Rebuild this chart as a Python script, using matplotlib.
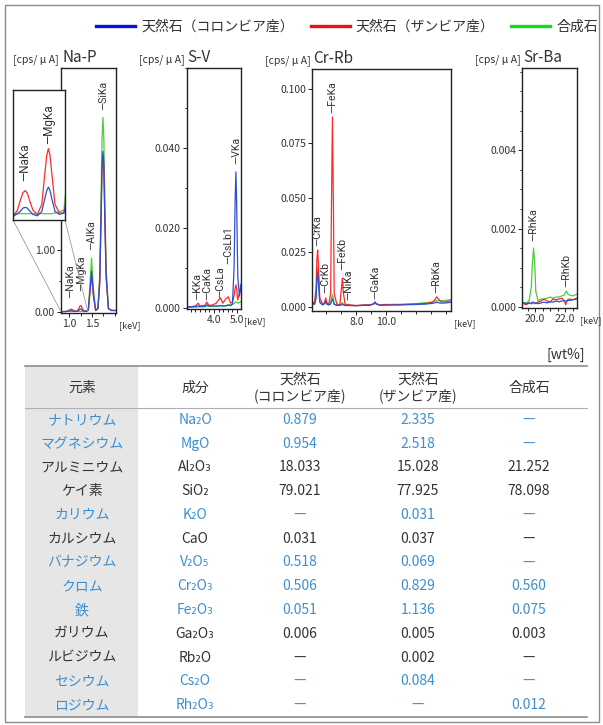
import matplotlib
matplotlib.use("Agg")
import matplotlib.pyplot as plt
from matplotlib.lines import Line2D
from matplotlib.patches import Rectangle, ConnectionPatch
from matplotlib.ticker import FixedLocator, MultipleLocator, FormatStrFormatter

plt.rcParams['font.family'] = ['Noto Sans CJK JP', 'DejaVu Sans']

# 系列
series_names = ['天然石（コロンビア産）', '天然石（ザンビア産）', '合成石']

# スペクトル Na-P  (keV, cps/uA)
nap_kev = [0.82, 0.93, 0.97, 1.00, 1.02, 1.04, 1.06, 1.08, 1.11, 1.15, 1.19, 1.22, 1.235, 1.25, 1.265, 1.28,
           1.31, 1.35, 1.39, 1.42, 1.45, 1.49, 1.53, 1.58, 1.63, 1.67, 1.70, 1.72, 1.74, 1.76, 1.78, 1.81,
           1.86, 1.93, 2.02]
nap_colombia = [0.0, 0.003, 0.007, 0.011, 0.015, 0.016, 0.015, 0.011, 0.006, 0.004, 0.010, 0.030, 0.040, 0.045,
                0.040, 0.029, 0.010, 0.006, 0.008,
                0.030, 0.29, 0.66, 0.29, 0.02, 0.05, 0.5, 1.6, 2.4, 2.6, 2.4, 1.6, 0.6, 0.05, 0.02, 0.02]
nap_zambia = [0.0, 0.003, 0.012, 0.028, 0.037, 0.040, 0.036, 0.026, 0.012, 0.006, 0.020, 0.068, 0.090, 0.100,
              0.090, 0.066, 0.020, 0.008, 0.008,
              0.030, 0.26, 0.60, 0.26, 0.02, 0.05, 0.45, 1.5, 2.3, 2.5, 2.3, 1.5, 0.55, 0.05, 0.02, 0.02]
nap_synth = [0.0, 0.007, 0.007, 0.007, 0.007, 0.007, 0.007, 0.007, 0.007, 0.007, 0.007, 0.007, 0.007, 0.007,
             0.007, 0.007, 0.008, 0.010, 0.012,
             0.060, 0.38, 0.87, 0.38, 0.02, 0.06, 0.6, 1.9, 2.8, 3.15, 2.8, 1.9, 0.7, 0.06, 0.02, 0.02]
nap_peaks = ['NaKa', 'MgKa', 'AlKa', 'SiKa']
nap_peak_kev = [1.04, 1.25, 1.49, 1.74]

# スペクトル S-V
sv_kev = [2.82, 3.0, 3.2, 3.31, 3.4, 3.6, 3.69, 3.78, 3.95, 4.1, 4.2, 4.29, 4.38, 4.5, 4.62, 4.72,
          4.8, 4.87, 4.92, 4.95, 4.98, 5.03, 5.1, 5.17]
sv_colombia = [0.0003, 0.0003, 0.0004, 0.0005, 0.0004, 0.0004, 0.0008, 0.0005, 0.0005, 0.0005, 0.0005, 0.0006,
               0.0005, 0.0005, 0.0007, 0.0006, 0.0010, 0.010, 0.028, 0.034, 0.027, 0.008, 0.003, 0.006]
sv_zambia = [0.0002, 0.0003, 0.0005, 0.0012, 0.0005, 0.0006, 0.0015, 0.0006, 0.0008, 0.0012, 0.0020, 0.0025,
             0.0012, 0.0022, 0.0028, 0.0012, 0.0015, 0.0030, 0.0050, 0.0058, 0.0048, 0.0020, 0.0035, 0.0050]
sv_synth = [0.0002, 0.0002, 0.0002, 0.0003, 0.0003, 0.0003, 0.0005, 0.0004, 0.0004, 0.0004, 0.0005, 0.0006,
            0.0005, 0.0006, 0.0008, 0.0008, 0.0009, 0.0011, 0.0014, 0.0015, 0.0014, 0.0012, 0.0014, 0.0016]
sv_peaks = ['KKa', 'CaKa', 'CsLa', 'CsLb1', 'VKa']
sv_peak_kev = [3.31, 3.69, 4.29, 4.62, 4.95]

# スペクトル Cr-Rb
crrb_kev = [5.05, 5.2, 5.3, 5.36, 5.41, 5.47, 5.55, 5.75, 5.88, 5.95, 6.02, 6.15, 6.28, 6.34, 6.40, 6.46,
            6.52, 6.7, 6.9, 7.0, 7.06, 7.12, 7.25, 7.40, 7.48, 7.56, 8.0, 8.5, 8.9, 9.15, 9.25, 9.35,
            9.6, 10.0, 11.0, 12.0, 12.7, 13.1, 13.3, 13.39, 13.5, 13.7, 14.0, 14.35]
crrb_colombia = [0.002, 0.001, 0.004, 0.012, 0.016, 0.011, 0.002, 0.0008, 0.0015, 0.0025, 0.0012, 0.0008,
                 0.0012, 0.0025, 0.0035, 0.0025, 0.001, 0.0006, 0.0006, 0.0008, 0.0012, 0.0008, 0.0005, 0.0005,
                 0.0006, 0.0005, 0.0004, 0.0006, 0.0006, 0.0012, 0.0022, 0.0012, 0.0006, 0.0007, 0.0008, 0.0010,
                 0.0012, 0.0015, 0.0018, 0.0020, 0.0018, 0.0016, 0.0017, 0.0020]
crrb_zambia = [0.002, 0.002, 0.008, 0.022, 0.026, 0.018, 0.004, 0.001, 0.002, 0.004, 0.002, 0.001,
               0.006, 0.050, 0.087, 0.050, 0.006, 0.001, 0.001, 0.008, 0.013, 0.007, 0.001, 0.001,
               0.001, 0.0008, 0.0005, 0.0008, 0.0008, 0.0012, 0.0018, 0.0012, 0.0008, 0.0010, 0.0009, 0.0012,
               0.0015, 0.0020, 0.0035, 0.0045, 0.0035, 0.0022, 0.0022, 0.0028]
crrb_synth = [0.0015, 0.001, 0.004, 0.013, 0.018, 0.012, 0.002, 0.0008, 0.0015, 0.003, 0.0012, 0.0008,
              0.002, 0.004, 0.0055, 0.004, 0.0012, 0.0006, 0.0006, 0.0012, 0.002, 0.0012, 0.0006, 0.0006,
              0.0007, 0.0006, 0.0005, 0.0007, 0.0008, 0.0012, 0.0018, 0.0012, 0.0008, 0.0009, 0.0011, 0.0014,
              0.0018, 0.0022, 0.0025, 0.0028, 0.0027, 0.0027, 0.0029, 0.0032]
crrb_peaks = ['CrKa', 'CrKb', 'FeKa', 'FeKb', 'NiKa', 'GaKa', 'RbKa']
crrb_peak_kev = [5.41, 5.95, 6.40, 7.06, 7.48, 9.25, 13.39]

# スペクトル Sr-Ba
srba_kev = [19.15, 19.4, 19.6, 19.75, 19.82, 19.9, 19.98, 20.05, 20.2, 20.4, 20.6, 20.8, 21.0, 21.2,
            21.4, 21.6, 21.8, 21.95, 22.05, 22.1, 22.18, 22.3, 22.5, 22.78]
srba_colombia = [0.00012, 0.00008, 0.0001, 0.00008, 0.00012, 0.0001, 0.0001, 0.0001, 0.00008, 0.0001, 0.00012,
                 0.0001, 0.00013, 0.00012, 0.00015, 0.00013, 0.00015, 0.00016, 0.00014, 0.00015, 0.00017,
                 0.00016, 0.00018, 0.0002]
srba_zambia = [0.0001, 0.00005, 0.0001, 0.00008, 0.0001, 0.00012, 0.00008, 0.0001, 0.00012, 0.00015, 0.0002,
               0.00015, 0.00012, 0.0002, 0.00018, 0.0002, 0.00022, 0.00015, 0.00005, 0.00012, 0.00018,
               0.0002, 0.00018, 0.00022]
srba_synth = [0.0001, 0.0001, 0.00015, 0.0005, 0.0011, 0.0015, 0.0011, 0.0004, 0.00015, 0.0002, 0.0002,
              0.00022, 0.00025, 0.00022, 0.00025, 0.00025, 0.00028, 0.0003, 0.00038, 0.0004, 0.00033,
              0.0003, 0.00028, 0.00032]
srba_peaks = ['RhKa', 'RhKb']
srba_peak_kev = [19.9, 22.1]

# 分析結果 [wt%]
elements = ['ナトリウム', 'マグネシウム', 'アルミニウム', 'ケイ素', 'カリウム', 'カルシウム', 'バナジウム',
            'クロム', '鉄', 'ガリウム', 'ルビジウム', 'セシウム', 'ロジウム']
oxides = ['Na₂O', 'MgO', 'Al₂O₃', 'SiO₂', 'K₂O', 'CaO', 'V₂O₅', 'Cr₂O₃', 'Fe₂O₃', 'Ga₂O₃', 'Rb₂O',
          'Cs₂O', 'Rh₂O₃']
wt_colombia = [0.879, 0.954, 18.033, 79.021, None, 0.031, 0.518, 0.506, 0.051, 0.006, None, None, None]
wt_zambia = [2.335, 2.518, 15.028, 77.925, 0.031, 0.037, 0.069, 0.829, 1.136, 0.005, 0.002, 0.084, None]
wt_synth = [None, None, 21.252, 78.098, None, None, None, 0.560, 0.075, 0.003, None, None, 0.012]
highlight = [True, True, False, False, True, False, True, True, True, False, False, True, True]
table_header = ['元素', '成分', '天然石\n(コロンビア産)', '天然石\n(ザンビア産)', '合成石']

W, H = 603, 725
line_colors = ['#2a4fd0', '#ff2a2a', '#4ccc3a']
legend_colors = ['#0a10e8', '#f01010', '#10dd10']
TXT = '#333333'
BLUE_TXT = '#3b8fd2'
LABEL_KW = dict(rotation=90, ha='center', va='bottom', fontsize=7.6, color=TXT,
                family=['Roboto', 'DejaVu Sans'])


def px_box(x0, y0, x1, y1):
    return [x0 / W, 1 - y1 / H, (x1 - x0) / W, (y1 - y0) / H]


fig = plt.figure(figsize=(W / 100, H / 100), dpi=100)

ov = fig.add_axes([0, 0, 1, 1])
ov.set_xlim(0, W)
ov.set_ylim(H, 0)
ov.axis('off')

# 外枠
ov.add_patch(Rectangle((4.5, 4.5), 594, 717, fill=False, ec='#8c8c8c', lw=1.0))

# label_dx: 詰まったラベルを少しだけ左右にずらす量 [keV]
panels = [
    dict(name='Na-P', box=(61, 68, 115.7, 313), kev=nap_kev,
         curves=(nap_colombia, nap_zambia, nap_synth), peaks=nap_peaks, peak_kev=nap_peak_kev,
         label_y=[0.22, 0.33, 1.0, 3.27], label_dx=[-0.015, 0.015, 0, 0],
         xlim=(0.82, 2.02), ylim=(-0.021, 3.95),
         xticks=[1.0, 1.5], xminor=0.25, yticks=[0, 1], yminor=0.5, yfmt='%.2f'),
    dict(name='S-V', box=(186.7, 68, 241, 309), kev=sv_kev,
         curves=(sv_colombia, sv_zambia, sv_synth), peaks=sv_peaks, peak_kev=sv_peak_kev,
         label_y=[0.002, 0.002, 0.0025, 0.011, 0.036], label_dx=[-0.04, 0.03, 0, 0, 0],
         xlim=(2.82, 5.17), ylim=(-0.00025, 0.06),
         xticks=[4.0, 5.0], xminor=0.2, yticks=[0, 0.02, 0.04], yminor=0.01, yfmt='%.3f'),
    dict(name='Cr-Rb', box=(312.3, 69, 451, 311), kev=crrb_kev,
         curves=(crrb_colombia, crrb_zambia, crrb_synth), peaks=crrb_peaks, peak_kev=crrb_peak_kev,
         label_y=[0.028, 0.0063, 0.089, 0.017, 0.003, 0.0035, 0.0063], label_dx=[0] * 7,
         xlim=(5.05, 14.35), ylim=(-0.002, 0.109), xticks=[8.0, 10.0], xminor=1.0,
         yticks=[0, 0.025, 0.05, 0.075, 0.1], yminor=None, yfmt='%.3f'),
    dict(name='Sr-Ba', box=(522.3, 68, 576.7, 308), kev=srba_kev,
         curves=(srba_colombia, srba_zambia, srba_synth), peaks=srba_peaks, peak_kev=srba_peak_kev,
         label_y=[0.00167, 0.00051], label_dx=[0, 0], xlim=(19.15, 22.78), ylim=(-0.00003, 0.0061),
         xticks=[20.0, 22.0], xminor=0.5, yticks=[0, 0.002, 0.004], yminor=0.0005, yfmt='%.3f'),
]

axes = []
for p in panels:
    ax = fig.add_axes(px_box(*p['box']))
    for y, c, name in reversed(list(zip(p['curves'], line_colors, series_names))):
        ax.plot(p['kev'], y, color=c, lw=0.9, label=name)
    ax.set_xlim(*p['xlim'])
    ax.set_ylim(*p['ylim'])
    ax.xaxis.set_major_locator(FixedLocator(p['xticks']))
    ax.xaxis.set_major_formatter(FormatStrFormatter('%.1f'))
    ax.xaxis.set_minor_locator(MultipleLocator(p['xminor']))
    ax.yaxis.set_major_locator(FixedLocator(p['yticks']))
    ax.yaxis.set_major_formatter(FormatStrFormatter(p['yfmt']))
    if p['yminor']:
        ax.yaxis.set_minor_locator(MultipleLocator(p['yminor']))
    ax.tick_params(which='both', direction='out', width=0.7, color='#222222',
                   labelsize=7.5, labelcolor=TXT)
    ax.tick_params(which='major', length=3, pad=1.5)
    ax.tick_params(which='minor', length=1.8)
    for s in ax.spines.values():
        s.set_color('#222222')
        s.set_linewidth(1.0)
    for name, e, yb, dx in zip(p['peaks'], p['peak_kev'], p['label_y'], p['label_dx']):
        ax.text(e + dx, yb, '—' + name, **LABEL_KW)
    ax.annotate('[keV]', xy=(1, 0), xycoords='axes fraction', xytext=(3, -13),
                textcoords='offset pixels', ha='left', va='center', fontsize=6.5, color=TXT)
    ax.annotate('[cps/ μ A]', xy=(0, 1), xycoords='axes fraction', xytext=(-2, 6),
                textcoords='offset pixels', ha='right', va='baseline', fontsize=7.5, color=TXT)
    ax.annotate(p['name'], xy=(0, 1), xycoords='axes fraction', xytext=(1, 6),
                textcoords='offset pixels', ha='left', va='baseline', fontsize=11, color=TXT)
    axes.append(ax)

# Na-P 拡大図
ax1 = axes[0]
ins = fig.add_axes(px_box(13, 90, 65, 220), zorder=5)
ins.set_facecolor('white')
for y, c in reversed(list(zip(panels[0]['curves'], line_colors))):
    ins.plot(nap_kev, y, color=c, lw=0.9)
ins.set_xlim(0.93, 1.40)
ins.set_ylim(-0.002, 0.1835)
ins.set_xticks([])
ins.set_yticks([])
for s in ins.spines.values():
    s.set_color('#222222')
    s.set_linewidth(1.0)
for name, e, yb in zip(nap_peaks[:2], nap_peak_kev[:2], [0.053, 0.107]):
    ins.text(e, yb, '—' + name, **dict(LABEL_KW, fontsize=8.5))
for xa, xb in [(0, 0.82), (1, 1.41)]:
    con = ConnectionPatch(xyA=(xa, 0), coordsA=ins.transAxes, xyB=(xb, 0), coordsB=ax1.transData,
                          color='#9a9a9a', lw=0.6, zorder=4)
    fig.add_artist(con)

# 凡例
handles = [Line2D([], [], color=c, lw=2.4) for c in legend_colors]
leg = fig.legend(handles, series_names, loc='center right', bbox_to_anchor=(598 / W, 1 - 27 / H),
                 ncol=3, frameon=False, fontsize=10, handlelength=2.8, handletextpad=0.45,
                 columnspacing=1.2, borderaxespad=0, borderpad=0)
for t in leg.get_texts():
    t.set_color(TXT)

# 表
tx0, tx1 = 25, 587
top, head_bot, bot = 366, 408, 717
row_h = (bot - head_bot) / len(elements)
col_x = [82, 195, 300, 418, 529]
ov.add_patch(Rectangle((tx0, top), 138 - tx0, bot - top, color='#e6e6e6', lw=0))
ov.plot([tx0, tx1], [top, top], color='#8c8c8c', lw=1.2)
ov.plot([tx0, tx1], [head_bot, head_bot], color='#b0b0b0', lw=0.8)
ov.plot([tx0, tx1], [bot, bot], color='#8c8c8c', lw=1.2)
ov.text(tx1 - 2, 355, '[wt%]', ha='right', va='center', fontsize=10, color=TXT)
for x, h in zip(col_x, table_header):
    ov.text(x, (top + head_bot) / 2 + 1, h, ha='center', va='center', fontsize=10,
            color=TXT, linespacing=1.2)


def fmt(v):
    return '—' if v is None else '%.3f' % v


for i, (el, ox, a, b, c, hl) in enumerate(zip(elements, oxides, wt_colombia, wt_zambia, wt_synth, highlight)):
    yc = head_bot + row_h * (i + 0.5)
    col = BLUE_TXT if hl else TXT
    for x, s in zip(col_x, [el, ox, fmt(a), fmt(b), fmt(c)]):
        ov.text(x, yc, s, ha='center', va='center', fontsize=10, color=col)

fig.savefig('out.png', dpi=100)
